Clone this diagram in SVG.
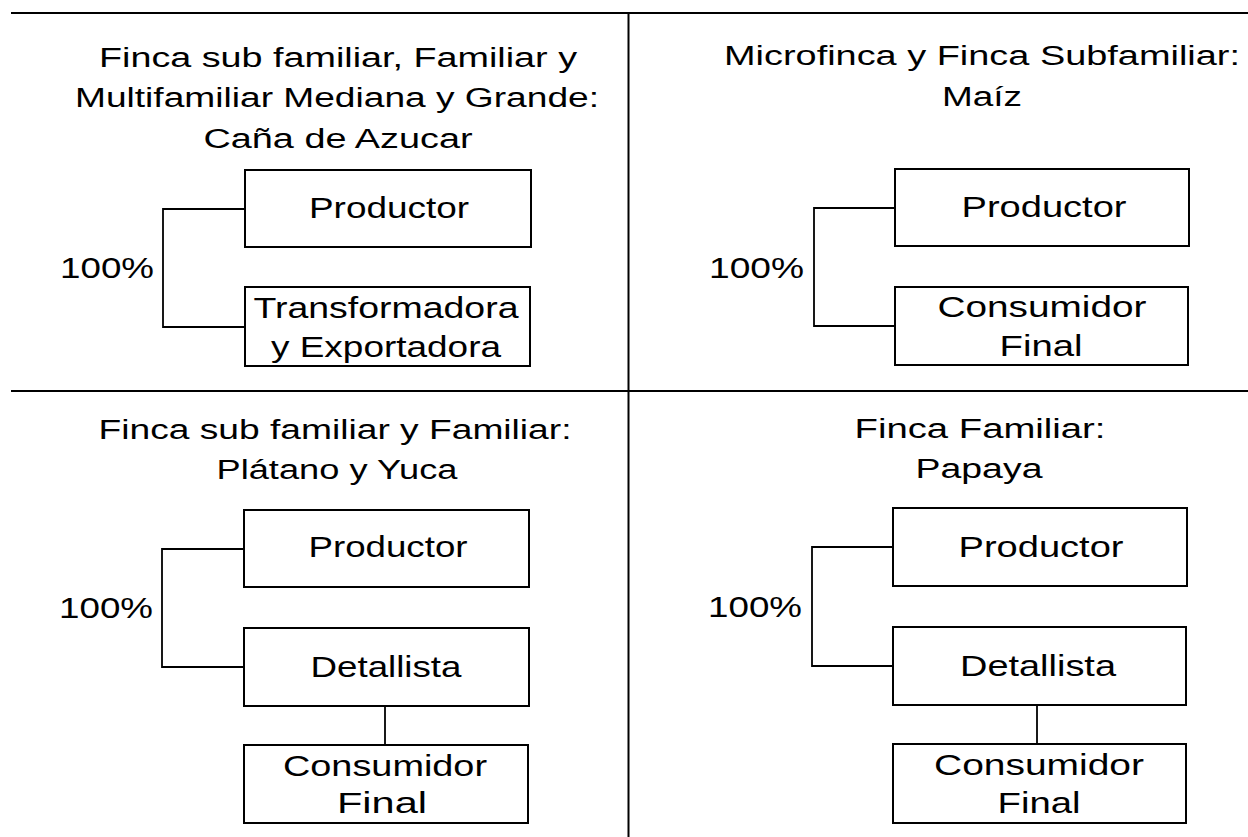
<svg xmlns="http://www.w3.org/2000/svg" width="1248" height="837" viewBox="0 0 1248 837">
<style>
  .frame { stroke: #000; stroke-width: 2; fill: none; }
  .box { fill: #fff; stroke: #000; stroke-width: 2; }
  .conn { fill: none; stroke: #000; stroke-width: 1.8; }
  text { font-family: "Liberation Sans", Arial, Helvetica, sans-serif; font-size: 30px; fill: #000; }
  .t { font-size: 27px; }
  .c { text-anchor: middle; }
</style>
<rect x="0" y="0" width="1248" height="837" fill="#fff"/>
<g id="frame">
  <line class="frame" x1="11" y1="13" x2="1248" y2="13"/>
  <line class="frame" x1="11" y1="391" x2="1248" y2="391"/>
  <line class="frame" x1="628.5" y1="13" x2="628.5" y2="837"/>
</g>
<g id="titles">
  <text class="c t" x="338" y="67" textLength="478" lengthAdjust="spacingAndGlyphs">Finca sub familiar, Familiar y</text>
  <text class="c t" x="337" y="107" textLength="524" lengthAdjust="spacingAndGlyphs">Multifamiliar Mediana y Grande:</text>
  <text class="c t" x="338" y="148" textLength="269" lengthAdjust="spacingAndGlyphs">Caña de Azucar</text>
  <text class="c t" x="982" y="65" textLength="516" lengthAdjust="spacingAndGlyphs">Microfinca y Finca Subfamiliar:</text>
  <text class="c t" x="982" y="106" textLength="80" lengthAdjust="spacingAndGlyphs">Maíz</text>
  <text class="c t" x="335" y="439" textLength="473" lengthAdjust="spacingAndGlyphs">Finca sub familiar y Familiar:</text>
  <text class="c t" x="337" y="479" textLength="241" lengthAdjust="spacingAndGlyphs">Plátano y Yuca</text>
  <text class="c t" x="980" y="438" textLength="251" lengthAdjust="spacingAndGlyphs">Finca Familiar:</text>
  <text class="c t" x="979" y="478" textLength="127" lengthAdjust="spacingAndGlyphs">Papaya</text>
</g>
<g id="connectors">
  <path class="conn" d="M245 209 H163 V327 H245"/>
  <path class="conn" d="M895 208 H814 V326 H895"/>
  <path class="conn" d="M244 549 H162 V667 H244"/>
  <path class="conn" d="M385 706 V745"/>
  <path class="conn" d="M893 547 H812 V666 H893"/>
  <path class="conn" d="M1037 705 V744"/>
</g>
<g id="labels">
  <text x="60" y="278" textLength="94" lengthAdjust="spacingAndGlyphs">100%</text>
  <text x="709" y="278" textLength="95" lengthAdjust="spacingAndGlyphs">100%</text>
  <text x="59" y="618" textLength="94" lengthAdjust="spacingAndGlyphs">100%</text>
  <text x="708" y="617" textLength="94" lengthAdjust="spacingAndGlyphs">100%</text>
</g>
<g id="q1-productor">
  <rect class="box" x="245" y="170" width="286" height="77"/>
  <text class="c" x="389" y="218" textLength="160" lengthAdjust="spacingAndGlyphs">Productor</text>
</g>
<g id="q1-transformadora">
  <rect class="box" x="245" y="287" width="285" height="79"/>
  <text class="c" x="386" y="318" textLength="265" lengthAdjust="spacingAndGlyphs">Transformadora</text>
  <text class="c" x="386" y="357" textLength="230" lengthAdjust="spacingAndGlyphs">y Exportadora</text>
</g>
<g id="q2-productor">
  <rect class="box" x="895" y="169" width="294" height="77"/>
  <text class="c" x="1044" y="217" textLength="165" lengthAdjust="spacingAndGlyphs">Productor</text>
</g>
<g id="q2-consumidor">
  <rect class="box" x="895" y="287" width="293" height="78"/>
  <text class="c" x="1042" y="317" textLength="209" lengthAdjust="spacingAndGlyphs">Consumidor</text>
  <text class="c" x="1041" y="356" textLength="83" lengthAdjust="spacingAndGlyphs">Final</text>
</g>
<g id="q3-productor">
  <rect class="box" x="244" y="510" width="285" height="77"/>
  <text class="c" x="388" y="557" textLength="159" lengthAdjust="spacingAndGlyphs">Productor</text>
</g>
<g id="q3-detallista">
  <rect class="box" x="244" y="628" width="285" height="78"/>
  <text class="c" x="386" y="677" textLength="151" lengthAdjust="spacingAndGlyphs">Detallista</text>
</g>
<g id="q3-consumidor">
  <rect class="box" x="244" y="745" width="284" height="78"/>
  <text class="c" x="385" y="776" textLength="204" lengthAdjust="spacingAndGlyphs">Consumidor</text>
  <text class="c" x="382" y="813" textLength="90" lengthAdjust="spacingAndGlyphs">Final</text>
</g>
<g id="q4-productor">
  <rect class="box" x="893" y="508" width="294" height="78"/>
  <text class="c" x="1041" y="557" textLength="165" lengthAdjust="spacingAndGlyphs">Productor</text>
</g>
<g id="q4-detallista">
  <rect class="box" x="893" y="627" width="293" height="78"/>
  <text class="c" x="1038" y="676" textLength="156" lengthAdjust="spacingAndGlyphs">Detallista</text>
</g>
<g id="q4-consumidor">
  <rect class="box" x="893" y="744" width="293" height="79"/>
  <text class="c" x="1039" y="775" textLength="210" lengthAdjust="spacingAndGlyphs">Consumidor</text>
  <text class="c" x="1039" y="813" textLength="83" lengthAdjust="spacingAndGlyphs">Final</text>
</g>
</svg>
